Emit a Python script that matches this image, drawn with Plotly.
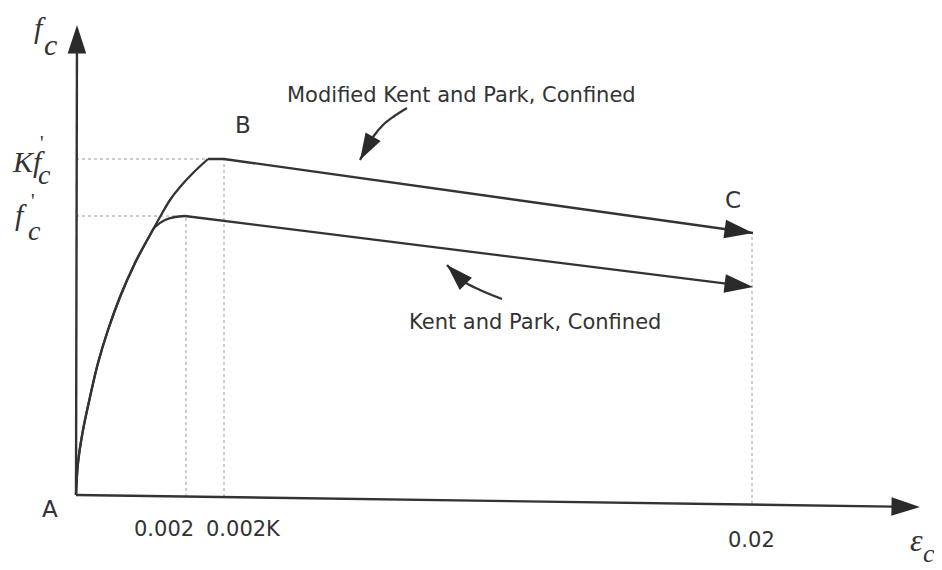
import plotly.graph_objects as go

# ---- schematic data (x: strain in schematic units, y: stress in schematic units) ----
# shared ascending branch + Kent and Park (confined)
kp_rise_x = [0, 2, 7, 14, 22, 32, 44, 59, 74, 79, 89, 99, 109]
kp_rise_y = [0, 32, 65, 98, 132, 165, 198, 232, 260, 268, 275, 278, 279]
kp_fall_x = [109, 677]
kp_fall_y = [279, 208]

# Modified Kent and Park (confined)
mkp_rise_x = [0, 2, 7, 14, 22, 32, 44, 59, 74, 84, 94, 104, 117, 132]
mkp_rise_y = [0, 32, 65, 98, 132, 165, 198, 232, 260, 278, 295, 308, 322, 336]
mkp_fall_x = [132, 148, 677]
mkp_fall_y = [336, 336, 262]

# reference levels / tick positions
stress_levels = [279, 336]          # f'c, K f'c
stress_level_ends = [109, 132]
strain_ticks = [110, 148, 676]
strain_tick_tops = [279, 336, 262]
strain_tick_bottoms = [-2, -2, -9]
strain_tick_labels = ["0.002", "0.002K", "0.02"]

# axes extents (scanned x-axis is slightly tilted)
x_axis_x = [0, 844]
x_axis_y = [0, -12]
y_axis_x = [0, 1]
y_axis_y = [0, 470]

# pointer arrows for labels
mkp_ptr_x = [331, 317, 307, 297, 284]
mkp_ptr_y = [387, 378, 370, 358, 335]
kp_ptr_x = [426, 404, 387, 371]
kp_ptr_y = [196, 205, 214, 230]

INK = "#333333"
DOT = "#9a9a9a"
SANS = "DejaVu Sans"
SERIF = "Liberation Serif"

fig = go.Figure()

def line(x, y, width=2.3, color=INK, dash="solid", shape="linear", arrow=0):
    kw = dict(x=x, y=y, mode="lines", line=dict(color=color, width=width, dash=dash, shape=shape),
              hoverinfo="skip", showlegend=False)
    if arrow:
        kw["mode"] = "lines+markers"
        kw["marker"] = dict(symbol="arrow", size=[0] * (len(x) - 1) + [arrow], angleref="previous",
                            color="#2a2a2a", opacity=1, line=dict(width=0))
    fig.add_trace(go.Scatter(**kw))

# dotted guide lines
for lvl, xe in zip(stress_levels, stress_level_ends):
    line([0, xe], [lvl, lvl], width=1, color=DOT, dash="dot")
for xt, yt, yb in zip(strain_ticks, strain_tick_tops, strain_tick_bottoms):
    line([xt, xt], [yb, yt], width=1, color=DOT, dash="dot")

# axes
line(x_axis_x, x_axis_y, width=2.4, arrow=30)
line(y_axis_x, y_axis_y, width=2.4, arrow=30)

# curves
line(kp_rise_x, kp_rise_y, shape="spline")
line(kp_fall_x, kp_fall_y, arrow=30)
line(mkp_rise_x, mkp_rise_y, shape="spline")
line(mkp_fall_x, mkp_fall_y, arrow=30)

# pointer arrows
line(mkp_ptr_x, mkp_ptr_y, shape="spline", arrow=28)
line(kp_ptr_x, kp_ptr_y, shape="spline", arrow=28)

def text(x, y, s, size=20, family=SANS):
    fig.add_annotation(x=x, y=y, text=s, showarrow=False, xref="x", yref="y",
                       font=dict(family=family, size=size, color=INK),
                       xanchor="center", yanchor="middle")

# point labels
text(-26, -14, "A", 23)
text(167, 370, "B", 23)
text(657, 295, "C", 23)

# strain tick labels
text(88, -34, strain_tick_labels[0], 21)
text(167, -34, strain_tick_labels[1], 21)
text(675, -45, strain_tick_labels[2], 21)

# curve labels
text(385, 400, "Modified Kent and Park, Confined", 21)
text(459, 173, "Kent and Park, Confined", 21)

# axis symbols (italic serif)
text(-36, 468, "<i>f</i>", 30, SERIF)
text(-26, 451, "<i>c</i>", 30, SERIF)

text(-48, 334, "<i>Kf</i>", 30, SERIF)
text(-32, 321, "<i>c</i>", 28, SERIF)
text(-34, 352, "'", 20, SERIF)

text(-55, 281, "<i>f</i>", 30, SERIF)
text(-42, 265, "<i>c</i>", 28, SERIF)
text(-43, 294, "'", 20, SERIF)

text(840, -45, "<i>ε</i>", 32, SERIF)
text(853, -58, "<i>c</i>", 26, SERIF)

# page body has an 8px margin: figure spans 934x562 starting at (8, 8)
fig.update_layout(
    width=934, height=562,
    margin=dict(l=0, r=0, t=0, b=0),
    paper_bgcolor="white", plot_bgcolor="white",
    xaxis=dict(range=[-68, 866], visible=False, fixedrange=True),
    yaxis=dict(range=[-75, 487], visible=False, fixedrange=True),
)

fig.write_html("out.html")
